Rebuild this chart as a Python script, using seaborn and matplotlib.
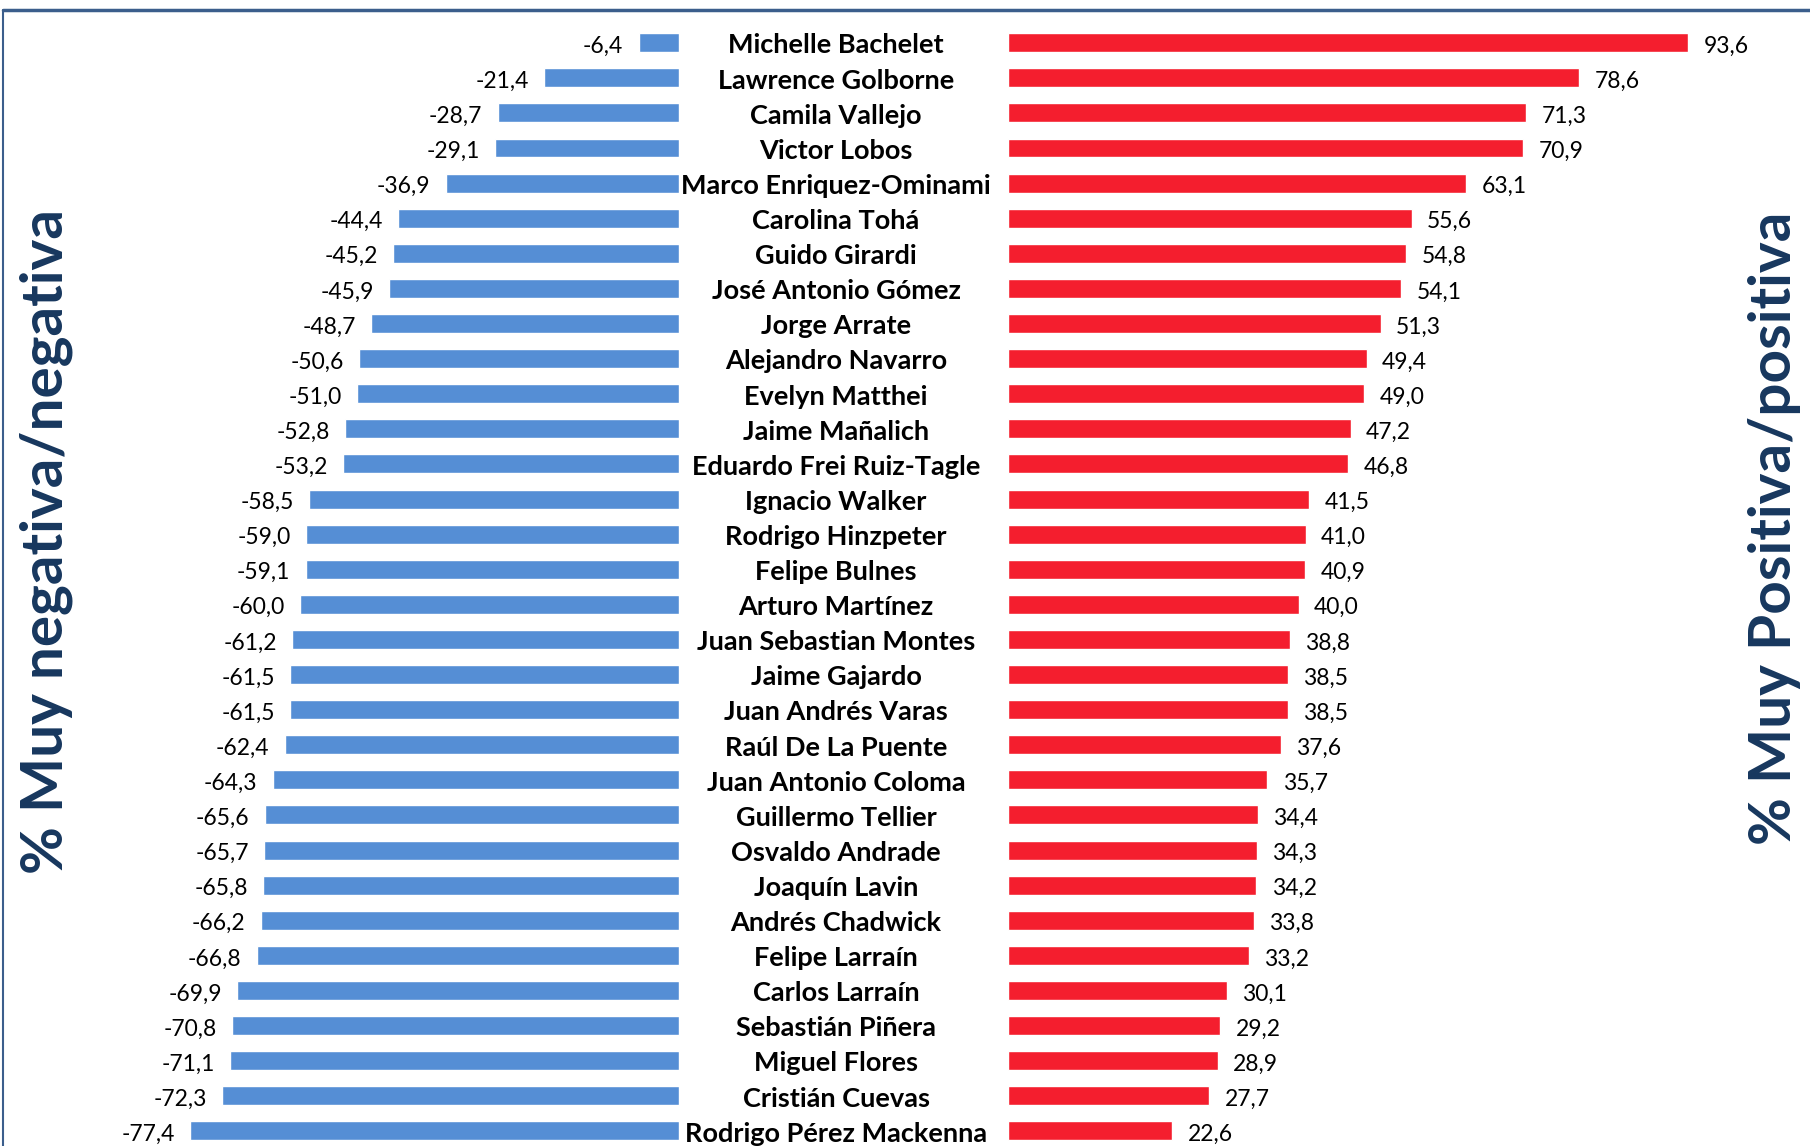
import matplotlib
matplotlib.use("Agg")
import matplotlib.pyplot as plt
import matplotlib.transforms as mtransforms
from matplotlib.lines import Line2D
import seaborn as sns

# data
names = ["Michelle Bachelet", "Lawrence Golborne", "Camila Vallejo", "Victor Lobos",
         "Marco Enriquez-Ominami", "Carolina Tohá", "Guido Girardi", "José Antonio Gómez",
         "Jorge Arrate", "Alejandro Navarro", "Evelyn Matthei", "Jaime Mañalich",
         "Eduardo Frei Ruiz-Tagle", "Ignacio Walker", "Rodrigo Hinzpeter", "Felipe Bulnes",
         "Arturo Martínez", "Juan Sebastian Montes", "Jaime Gajardo", "Juan Andrés Varas",
         "Raúl De La Puente", "Juan Antonio Coloma", "Guillermo Tellier", "Osvaldo Andrade",
         "Joaquín Lavin", "Andrés Chadwick", "Felipe Larraín", "Carlos Larraín",
         "Sebastián Piñera", "Miguel Flores", "Cristián Cuevas", "Rodrigo Pérez Mackenna"]
negativa = [-6.4, -21.4, -28.7, -29.1, -36.9, -44.4, -45.2, -45.9, -48.7, -50.6, -51.0,
            -52.8, -53.2, -58.5, -59.0, -59.1, -60.0, -61.2, -61.5, -61.5, -62.4, -64.3,
            -65.6, -65.7, -65.8, -66.2, -66.8, -69.9, -70.8, -71.1, -72.3, -77.4]
positiva = [93.6, 78.6, 71.3, 70.9, 63.1, 55.6, 54.8, 54.1, 51.3, 49.4, 49.0, 47.2, 46.8,
            41.5, 41.0, 40.9, 40.0, 38.8, 38.5, 38.5, 37.6, 35.7, 34.4, 34.3, 34.2, 33.8,
            33.2, 30.1, 29.2, 28.9, 27.7, 22.6]

blue = "#558ED5"
red = "#F41E2E"
navy = "#17375E"

sns.set_style("white")
plt.rcParams['font.family'] = ['Lato', 'DejaVu Sans']

W, H = 1810, 1146
fig = plt.figure(figsize=(W / 100, H / 100), dpi=100)

axL = fig.add_axes([190 / W, 0, (679 - 190) / W, 1])
axR = fig.add_axes([1008 / W, 0, (1688 - 1008) / W, 1])

sns.barplot(x=negativa, y=names, ax=axL, orient="h", color=blue, saturation=1, width=0.54)
sns.barplot(x=positiva, y=names, ax=axR, orient="h", color=red, saturation=1, width=0.54)

ylim = (31.43, -1.216)
axL.set_xlim(-77.4, 0)
axR.set_xlim(0, 93.6)
for ax in (axL, axR):
    ax.set_ylim(*ylim)
    ax.axis("off")


def fmt(v):
    return f"{v:.1f}".replace(".", ",")


for i, v in enumerate(negativa):
    axL.annotate(fmt(v), (v, i), xytext=(-11, -2.5), textcoords="offset points",
                 ha="right", va="center", fontsize=16.5, color="black", annotation_clip=False)
for i, v in enumerate(positiva):
    axR.annotate(fmt(v), (v, i), xytext=(11, -2.5), textcoords="offset points",
                 ha="left", va="center", fontsize=16.5, color="black", annotation_clip=False)

# candidate names between the two halves
tr = mtransforms.blended_transform_factory(fig.transFigure, axL.transData)
for i, n in enumerate(names):
    axL.annotate(n, (836 / W, i), xycoords=tr, xytext=(0, -2), textcoords="offset points",
                 ha="center", va="center", fontsize=19.5, fontweight="bold", color="black",
                 annotation_clip=False)

fig.text(46 / W, 1 - 542 / H, "% Muy negativa/negativa", rotation=90, ha="center",
         va="center", fontsize=42, fontweight="bold", color=navy)
fig.text(1774 / W, 1 - 528 / H, "% Muy Positiva/positiva", rotation=90, ha="center",
         va="center", fontsize=42, fontweight="bold", color=navy)

# frame lines of the original slide
fig.add_artist(Line2D([3 / W, 1], [1 - 10 / H, 1 - 10 / H], transform=fig.transFigure,
                      color="#3B5E8C", linewidth=2.5))
fig.add_artist(Line2D([3 / W, 3 / W], [0, 1 - 10 / H], transform=fig.transFigure,
                      color="#3B5E8C", linewidth=1.5))

fig.savefig("out.png", dpi=100)
